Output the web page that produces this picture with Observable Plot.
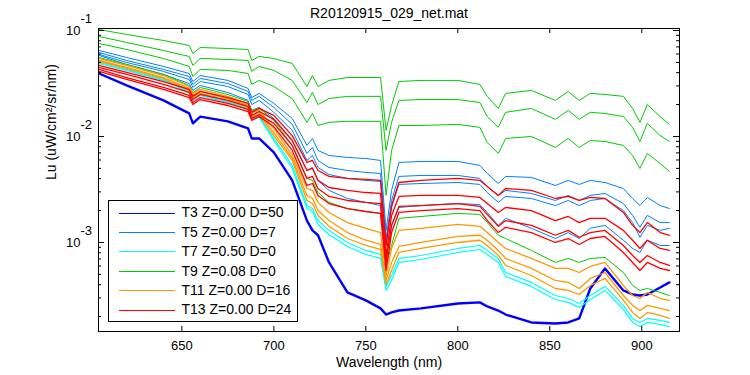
<!DOCTYPE html>
<html><head><meta charset="utf-8">
<script src="https://cdn.jsdelivr.net/npm/d3@7"></script>
<script src="https://cdn.jsdelivr.net/npm/@observablehq/plot@0.6"></script>
<style>
html,body{margin:0;padding:0;background:#fff;}
#wrap{position:relative;width:750px;height:375px;font-family:"Liberation Sans",Arial,sans-serif;}
#legend{position:absolute;left:108px;top:200px;}
</style></head>
<body><div id="wrap"></div>
<script>
// ---- data ----
const wavelength = [605, 620, 640, 654, 656, 660, 675, 686, 688, 692, 700, 710, 718, 721, 724, 730, 740, 750, 758, 761, 764, 768, 780, 800, 812, 816, 822, 826, 840, 853, 860, 866, 872, 880, 890, 895, 899, 903, 910, 915];

const T3_a = [0.0393, 0.0303, 0.0219, 0.0165, 0.0133, 0.0154, 0.0139, 0.0119, 0.00958, 0.00958, 0.00707, 0.00385, 0.00161, 0.00130, 0.00117, 0.000648, 0.000338, 0.000284, 0.000239, 0.000209, 0.000219, 0.000228, 0.000239, 0.000266, 0.000272, 0.000249, 0.000228, 0.000209, 0.000176, 0.000172, 0.000176, 0.000192, 0.000368, 0.000569, 0.000353, 0.000323, 0.000316, 0.000323, 0.000376, 0.000420];

const T5_a = [0.0648, 0.0556, 0.0458, 0.0393, 0.0330, 0.0376, 0.0338, 0.0284, 0.0233, 0.0255, 0.0205, 0.0148, 0.00823, 0.00958, 0.00738, 0.00662, 0.00634, 0.00620, 0.00594, 0.00130, 0.00310, 0.00569, 0.00581, 0.00581, 0.00533, 0.00448, 0.00360, 0.00420, 0.00411, 0.00345, 0.00385, 0.00353, 0.00385, 0.00368, 0.00323, 0.00260, 0.00223, 0.00266, 0.00223, 0.00209];
const T5_b = [0.0620, 0.0521, 0.0429, 0.0368, 0.0310, 0.0353, 0.0316, 0.0266, 0.0219, 0.0239, 0.0188, 0.0130, 0.00691, 0.00788, 0.00594, 0.00510, 0.00478, 0.00458, 0.00448, 0.00109, 0.00249, 0.00420, 0.00429, 0.00429, 0.00402, 0.00338, 0.00278, 0.00310, 0.00290, 0.00249, 0.00278, 0.00249, 0.00278, 0.00290, 0.00233, 0.00180, 0.00139, 0.00180, 0.00154, 0.00154];
const T5_c = [0.0594, 0.0499, 0.0411, 0.0345, 0.0290, 0.0330, 0.0296, 0.0249, 0.0200, 0.0219, 0.0169, 0.0114, 0.00594, 0.00662, 0.00510, 0.00438, 0.00402, 0.00385, 0.00376, 0.000937, 0.00214, 0.00353, 0.00360, 0.00368, 0.00353, 0.00296, 0.00239, 0.00272, 0.00260, 0.00223, 0.00249, 0.00223, 0.00249, 0.00260, 0.00200, 0.00154, 0.00112, 0.00145, 0.00130, 0.00136];
const T5_d = [0.0581, 0.0478, 0.0385, 0.0316, 0.0272, 0.0303, 0.0260, 0.0219, 0.0176, 0.0188, 0.0148, 0.00917, 0.00478, 0.00510, 0.00385, 0.00310, 0.00260, 0.00239, 0.00223, 0.000676, 0.00145, 0.00214, 0.00223, 0.00233, 0.00228, 0.00192, 0.00145, 0.00169, 0.00136, 0.00109, 0.00124, 0.00109, 0.00136, 0.00145, 0.00105, 0.000878, 0.000805, 0.00105, 0.000937, 0.000937];

const T7_a = [0.0499, 0.0429, 0.0345, 0.0266, 0.0228, 0.0249, 0.0214, 0.0184, 0.0148, 0.0154, 0.00958, 0.00533, 0.00223, 0.00209, 0.00161, 0.00130, 0.00100, 0.000841, 0.000771, 0.000385, 0.000488, 0.000707, 0.000754, 0.000878, 0.000937, 0.000841, 0.000707, 0.000521, 0.000420, 0.000316, 0.000296, 0.000266, 0.000316, 0.000385, 0.000255, 0.000192, 0.000176, 0.000192, 0.000184, 0.000176];
const T7_b = [0.0488, 0.0420, 0.0338, 0.0260, 0.0223, 0.0244, 0.0209, 0.0180, 0.0145, 0.0151, 0.00917, 0.00499, 0.00209, 0.00196, 0.00148, 0.00119, 0.000917, 0.000771, 0.000707, 0.000353, 0.000438, 0.000648, 0.000691, 0.000805, 0.000859, 0.000771, 0.000648, 0.000478, 0.000385, 0.000290, 0.000272, 0.000244, 0.000290, 0.000353, 0.000233, 0.000176, 0.000161, 0.000176, 0.000169, 0.000161];

const T9_a = [0.102, 0.0917, 0.0805, 0.0722, 0.0607, 0.0691, 0.0676, 0.0662, 0.0521, 0.0569, 0.0544, 0.0488, 0.0296, 0.0376, 0.0296, 0.0338, 0.0360, 0.0360, 0.0360, 0.0114, 0.0196, 0.0330, 0.0338, 0.0338, 0.0310, 0.0239, 0.0184, 0.0255, 0.0272, 0.0219, 0.0266, 0.0219, 0.0255, 0.0249, 0.0239, 0.0184, 0.0136, 0.0200, 0.0154, 0.0130];
const T9_b = [0.0878, 0.0771, 0.0648, 0.0569, 0.0468, 0.0544, 0.0533, 0.0521, 0.0411, 0.0458, 0.0420, 0.0338, 0.0209, 0.0260, 0.0200, 0.0228, 0.0239, 0.0239, 0.0239, 0.00738, 0.0136, 0.0219, 0.0223, 0.0223, 0.0209, 0.0154, 0.0122, 0.0169, 0.0184, 0.0145, 0.0176, 0.0145, 0.0169, 0.0165, 0.0154, 0.0122, 0.00897, 0.0133, 0.0102, 0.00897];
const T9_c = [0.0754, 0.0662, 0.0544, 0.0458, 0.0368, 0.0429, 0.0420, 0.0393, 0.0310, 0.0338, 0.0296, 0.0228, 0.0136, 0.0165, 0.0127, 0.0136, 0.0139, 0.0139, 0.0139, 0.00278, 0.00738, 0.0127, 0.0127, 0.0130, 0.0122, 0.00878, 0.00691, 0.00958, 0.0100, 0.00788, 0.00958, 0.00788, 0.00917, 0.00897, 0.00823, 0.00662, 0.00499, 0.00691, 0.00556, 0.00468];
const T9_d = [0.0556, 0.0478, 0.0385, 0.0303, 0.0260, 0.0290, 0.0249, 0.0214, 0.0176, 0.0184, 0.0142, 0.00823, 0.00402, 0.00385, 0.00296, 0.00239, 0.00209, 0.00196, 0.00188, 0.000607, 0.000937, 0.00169, 0.00176, 0.00188, 0.00184, 0.00154, 0.00117, 0.00109, 0.000841, 0.000648, 0.000707, 0.000648, 0.000707, 0.000722, 0.000521, 0.000393, 0.000353, 0.000368, 0.000338, 0.000316];

const T11_a = [0.0544, 0.0468, 0.0376, 0.0296, 0.0255, 0.0278, 0.0239, 0.0205, 0.0169, 0.0176, 0.0119, 0.00662, 0.00323, 0.00310, 0.00239, 0.00192, 0.00154, 0.00136, 0.00124, 0.000488, 0.000878, 0.00130, 0.00136, 0.00148, 0.00142, 0.00124, 0.00100, 0.000878, 0.000707, 0.000569, 0.000569, 0.000521, 0.000594, 0.000648, 0.000393, 0.000316, 0.000296, 0.000338, 0.000296, 0.000284];
const T11_b = [0.0521, 0.0448, 0.0360, 0.0284, 0.0244, 0.0266, 0.0228, 0.0196, 0.0161, 0.0169, 0.0109, 0.00620, 0.00278, 0.00260, 0.00200, 0.00161, 0.00124, 0.00105, 0.000958, 0.000438, 0.000648, 0.000917, 0.00100, 0.00114, 0.00117, 0.00105, 0.000841, 0.000707, 0.000569, 0.000438, 0.000420, 0.000368, 0.000458, 0.000521, 0.000316, 0.000255, 0.000228, 0.000255, 0.000239, 0.000228];
const T11_c = [0.0510, 0.0438, 0.0353, 0.0272, 0.0233, 0.0255, 0.0219, 0.0188, 0.0154, 0.0161, 0.0102, 0.00594, 0.00249, 0.00233, 0.00180, 0.00142, 0.00109, 0.000937, 0.000859, 0.000402, 0.000544, 0.000805, 0.000878, 0.00100, 0.00105, 0.000937, 0.000754, 0.000607, 0.000488, 0.000368, 0.000353, 0.000323, 0.000393, 0.000458, 0.000284, 0.000219, 0.000192, 0.000219, 0.000205, 0.000192];

const T13_a = [0.0468, 0.0402, 0.0330, 0.0278, 0.0239, 0.0266, 0.0233, 0.0205, 0.0169, 0.0184, 0.0158, 0.0102, 0.00569, 0.00594, 0.00478, 0.00420, 0.00402, 0.00393, 0.00385, 0.000937, 0.00223, 0.00368, 0.00385, 0.00402, 0.00385, 0.00338, 0.00278, 0.00323, 0.00310, 0.00260, 0.00272, 0.00249, 0.00266, 0.00260, 0.00192, 0.00145, 0.00124, 0.00154, 0.00124, 0.00117];
const T13_b = [0.0448, 0.0385, 0.0310, 0.0260, 0.0223, 0.0249, 0.0219, 0.0192, 0.0158, 0.0172, 0.0145, 0.00917, 0.00478, 0.00499, 0.00385, 0.00330, 0.00310, 0.00296, 0.00290, 0.000754, 0.00180, 0.00272, 0.00278, 0.00278, 0.00266, 0.00233, 0.00192, 0.00214, 0.00200, 0.00161, 0.00176, 0.00154, 0.00169, 0.00169, 0.00130, 0.00105, 0.000878, 0.00105, 0.000878, 0.000841];
const T13_c = [0.0429, 0.0360, 0.0290, 0.0244, 0.0209, 0.0233, 0.0205, 0.0180, 0.0148, 0.0161, 0.0133, 0.00823, 0.00402, 0.00420, 0.00323, 0.00272, 0.00249, 0.00239, 0.00233, 0.000648, 0.00145, 0.00219, 0.00223, 0.00233, 0.00219, 0.00184, 0.00142, 0.00161, 0.00145, 0.00117, 0.00130, 0.00112, 0.00124, 0.00130, 0.000937, 0.000754, 0.000648, 0.000754, 0.000648, 0.000607];
const T13_d = [0.0411, 0.0345, 0.0278, 0.0233, 0.0200, 0.0223, 0.0196, 0.0172, 0.0142, 0.0154, 0.0124, 0.00738, 0.00345, 0.00360, 0.00278, 0.00233, 0.00209, 0.00196, 0.00188, 0.000544, 0.00124, 0.00192, 0.00200, 0.00209, 0.00200, 0.00161, 0.00124, 0.00139, 0.00124, 0.00100, 0.00109, 0.000958, 0.00109, 0.00114, 0.000805, 0.000648, 0.000544, 0.000648, 0.000569, 0.000544];

const legendLabels = ["T3 Z=0.00 D=50", "T5 Z=0.00 D=7", "T7 Z=0.50 D=0", "T9 Z=0.08 D=0", "T11 Z=0.00 D=16", "T13 Z=0.00 D=24"];
const seriesByStation = [[T3_a], [T5_a, T5_b, T5_c, T5_d], [T7_a, T7_b], [T9_a, T9_b, T9_c, T9_d], [T11_a, T11_b, T11_c], [T13_a, T13_b, T13_c, T13_d]];
const xTicks = [650, 700, 750, 800, 850, 900];
const yMajorTicks = [0.1, 0.01, 0.001];
const yExponents = ["-1", "-2", "-3"];
const yMinorTicks = [2e-4,3e-4,4e-4,5e-4,6e-4,7e-4,8e-4,9e-4,2e-3,3e-3,4e-3,5e-3,6e-3,7e-3,8e-3,9e-3,2e-2,3e-2,4e-2,5e-2,6e-2,7e-2,8e-2,9e-2];
const titleText = "R20120915_029_net.mat";
const xLabel = "Wavelength (nm)";
const yLabel = "Lu (uW/cm\u00B2/sr/nm)";

// ---- styles ----
const colors = ["#0000ff", "#0080ff", "#00ffff", "#00cc00", "#ff9900", "#ff0000"];
const widths = [2.4, 1, 1.2, 1, 1.3, 1.3];
const W = 750, H = 375, mL = 98, mR = 71, mT = 28, mB = 44;
const fw = W - mL - mR, fh = H - mT - mB;
const font = "Liberation Sans, Arial, sans-serif";

const lineMarks = [];
seriesByStation.forEach((lines, gi) => {
  const rows = [];
  lines.forEach((arr, li) => arr.forEach((v, i) => rows.push({wl: wavelength[i], lu: v, k: li})));
  lineMarks.push(Plot.line(rows, {x: "wl", y: "lu", z: "k", stroke: colors[gi], strokeWidth: widths[gi], clip: true}));
});

const chart = Plot.plot({
  width: W, height: H,
  marginLeft: mL, marginRight: mR, marginTop: mT, marginBottom: mB,
  style: {fontFamily: font, background: "#fff", overflow: "visible"},
  x: {domain: [604.7, 920.5], axis: null},
  y: {type: "log", domain: [1.446e-4, 0.1044], axis: null},
  marks: [
    ...lineMarks,
    Plot.frame({stroke: "#000", strokeWidth: 1}),
    Plot.ruleX(xTicks, {x: d => d, insetTop: fh - 5, stroke: "#000"}),
    Plot.ruleX(xTicks, {x: d => d, insetBottom: fh - 5, stroke: "#000"}),
    Plot.ruleY(yMajorTicks, {y: d => d, insetRight: fw - 6, stroke: "#000"}),
    Plot.ruleY(yMajorTicks, {y: d => d, insetLeft: fw - 6, stroke: "#000"}),
    Plot.ruleY(yMinorTicks, {y: d => d, insetRight: fw - 3, stroke: "#000"}),
    Plot.ruleY(yMinorTicks, {y: d => d, insetLeft: fw - 3, stroke: "#000"}),
    Plot.text(xTicks, {x: d => d, text: d => String(d), frameAnchor: "bottom", dy: 14, lineAnchor: "middle", fontSize: 13, fill: "#000"}),
    Plot.text(yMajorTicks, {y: d => d, text: () => "10", frameAnchor: "left", dx: -18, textAnchor: "end", lineAnchor: "middle", fontSize: 13, fill: "#000"}),
    Plot.text(yMajorTicks, {y: d => d, text: (d, i) => yExponents[i], frameAnchor: "left", dx: -18, dy: -12, textAnchor: "start", lineAnchor: "middle", fontSize: 13, fill: "#000"}),
    Plot.text([titleText], {frameAnchor: "top", dy: -15, lineAnchor: "middle", fontSize: 14, fill: "#000"}),
    Plot.text([xLabel], {frameAnchor: "bottom", dy: 31, lineAnchor: "middle", fontSize: 14, fill: "#000"}),
    Plot.text([yLabel], {frameAnchor: "left", dx: -47, rotate: -90, lineAnchor: "middle", fontSize: 14, fill: "#000"})
  ]
});

const wrap = document.getElementById("wrap");
wrap.appendChild(chart);

// legend box
const lg = d3.select(wrap).append("svg").attr("id", "legend").attr("width", 191).attr("height", 123);
lg.append("rect").attr("x", 0.5).attr("y", 0.5).attr("width", 189).attr("height", 121).attr("fill", "#fff").attr("stroke", "#000");
legendLabels.forEach((lab, i) => {
  const cy = 12.5 + i * 19.4;
  lg.append("line").attr("x1", 11).attr("x2", 67).attr("y1", Math.round(cy) + 0.5).attr("y2", Math.round(cy) + 0.5).attr("stroke", colors[i]).attr("stroke-width", 1);
  lg.append("text").attr("x", 73.5).attr("y", cy).attr("dy", "0.35em").attr("font-size", 14).attr("font-family", font).attr("fill", "#000").text(lab);
});
</script>
</body></html>
